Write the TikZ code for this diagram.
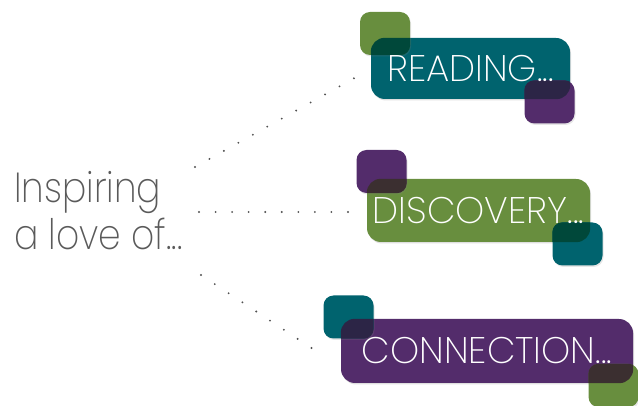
\documentclass[tikz,border=0pt]{standalone}
\usepackage{fontspec}
\setmainfont{Poppins}[UprightFont=* ExtraLight]
\newfontfamily\leadfont{Poppins}[UprightFont=* ExtraLight,FakeStretch=0.86]
\usetikzlibrary{shadows}
\definecolor{readteal}{HTML}{00636E}
\definecolor{discgreen}{HTML}{688E3E}
\definecolor{connpurple}{HTML}{532C6B}
\definecolor{leadgrey}{HTML}{5A5A5A}
\definecolor{greenteal}{HTML}{00483A}
\definecolor{purpleteal}{HTML}{2C2546}
\definecolor{purplegreen}{HTML}{3B2F30}
\tikzset{
  word/.style={rectangle,rounded corners=14pt,inner sep=0pt,
    drop shadow={opacity=0.25,shadow xshift=1pt,shadow yshift=-1.5pt}},
  wordtext/.style={text=white,font=\fontsize{37}{37}\selectfont},
  tab/.style={rectangle,rounded corners=10pt,minimum width=50pt,minimum height=43pt,inner sep=0pt,
    drop shadow={opacity=0.2,shadow xshift=1pt,shadow yshift=-1.5pt}},
  lead/.style={anchor=base west,inner sep=0pt,text=leadgrey,font=\leadfont\fontsize{42}{42}\selectfont},
  dots/.style={draw=leadgrey!90!black,line width=2.1pt,line cap=round,dash pattern=on 0pt off 16.55pt}
}
\begin{document}
\begin{tikzpicture}[x=1pt,y=-1pt]
  \useasboundingbox (0,0) rectangle (638,406);
  % left text
  \node[lead] (lead1) at (14,203) {Inspiring};
  \node[lead] (lead2) at (14,250) {a love of...};
  % the three boxes
  \node[word,fill=readteal,minimum width=199pt,minimum height=61pt] (reading) at (470.5,68.5) {};
  \node[word,fill=discgreen,minimum width=223pt,minimum height=63pt] (discovery) at (478.5,210.5) {};
  \node[word,fill=connpurple,minimum width=292pt,minimum height=64pt] (connection) at (487,351) {};
  % corner tabs
  \node[tab,fill=discgreen] (reading-a) at (385,33.5) {};
  \node[tab,fill=connpurple] (reading-b) at (549.5,102) {};
  \node[tab,fill=connpurple] (discovery-a) at (381.5,171.5) {};
  \node[tab,fill=readteal] (discovery-b) at (577.5,244) {};
  \node[tab,fill=readteal] (connection-a) at (348.5,317) {};
  \node[tab,fill=discgreen] (connection-b) at (613.5,385.5) {};
  % where tab and box overlap
  \foreach \w/\t/\c in {reading/reading-a/greenteal, reading/reading-b/purpleteal,
      discovery/discovery-a/purplegreen, discovery/discovery-b/greenteal,
      connection/connection-a/purpleteal, connection/connection-b/purplegreen}{
    \begin{scope}
      \clip[rounded corners=14pt] (\w.south west) rectangle (\w.north east);
      \fill[\c,rounded corners=10pt] (\t.south west) rectangle (\t.north east);
    \end{scope}
  }
  % the words on top
  \node[wordtext] (reading-text) at (reading) {READING...};
  \node[wordtext] (discovery-text) at (discovery) {DISCOVERY...};
  \node[wordtext] (connection-text) at (connection) {CONNECTION...};
  % dotted leaders
  \coordinate (u0) at (195,167);
  \coordinate (u1) at (354.5,78);
  \coordinate (m0) at (199,212);
  \coordinate (m1) at (349,212);
  \coordinate (l0) at (201,275);
  \coordinate (l1) at (313,349);
  \draw[dots] (u0) -- (u1);
  \draw[dots] (m0) -- (m1);
  \draw[dots] (l0) -- (l1);
\end{tikzpicture}
\end{document}
